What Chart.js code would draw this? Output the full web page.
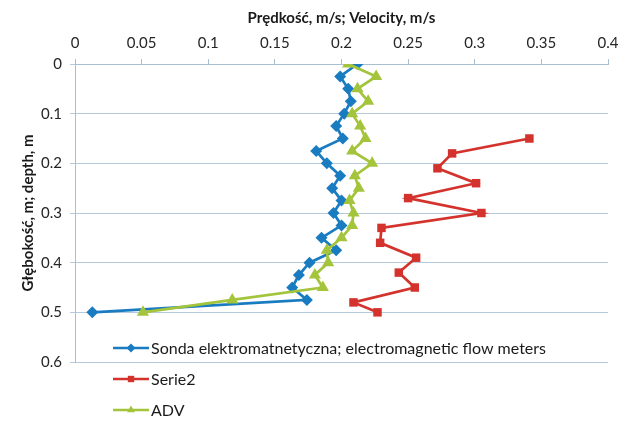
<!DOCTYPE html>
<html>
<head>
<meta charset="utf-8">
<script src="https://cdn.jsdelivr.net/npm/chart.js@4/dist/chart.umd.min.js"></script>
<style>
  html, body { margin: 0; padding: 0; background: #fff; }
  #wrap { width: 629px; height: 421px; position: relative; }
</style>
</head>
<body>
<div id="wrap"><canvas id="velChart" width="629" height="421"></canvas></div>
<script>
// depth [m] and velocity [m/s]
const depthEm = [0, 0.025, 0.05, 0.075, 0.1, 0.125, 0.15, 0.175, 0.2, 0.225, 0.25, 0.275, 0.3, 0.325, 0.35, 0.375, 0.4, 0.425, 0.45, 0.475, 0.5];
const velEm = [0.212, 0.199, 0.205, 0.207, 0.202, 0.196, 0.201, 0.181, 0.189, 0.199, 0.193, 0.200, 0.194, 0.200, 0.185, 0.196, 0.176, 0.168, 0.163, 0.174, 0.013];

const depthS2 = [0.15, 0.18, 0.21, 0.24, 0.27, 0.30, 0.33, 0.36, 0.39, 0.42, 0.45, 0.48, 0.50];
const velS2 = [0.341, 0.283, 0.272, 0.301, 0.250, 0.305, 0.230, 0.229, 0.256, 0.243, 0.255, 0.209, 0.227];

const depthAdv = [0, 0.025, 0.05, 0.075, 0.1, 0.125, 0.15, 0.175, 0.2, 0.225, 0.25, 0.275, 0.3, 0.325, 0.35, 0.375, 0.4, 0.425, 0.45, 0.475, 0.5];
const velAdv = [0.205, 0.226, 0.212, 0.220, 0.208, 0.214, 0.218, 0.208, 0.223, 0.210, 0.213, 0.206, 0.209, 0.208, 0.200, 0.189, 0.190, 0.180, 0.186, 0.118, 0.051];

const labels = ['Sonda elektromatnetyczna; electromagnetic flow meters', 'Serie2', 'ADV'];
const colors = ['#1a7cc0', '#d3332c', '#a3c43b'];
const FONT = 'Lato, "Open Sans", sans-serif';

function toPoints(xs, ys) {
  return xs.map((v, i) => ({ x: v, y: ys[i] }));
}

function fmt(v) {
  return String(Number(v.toFixed(2)));
}

// legend drawn inside the plot, near the bottom
const insideLegend = {
  id: 'insideLegend',
  afterDraw(chart) {
    const ctx = chart.ctx;
    const rows = [348, 379, 410];
    ctx.save();
    chart.data.datasets.forEach((ds, i) => {
      const y = rows[i];
      ctx.strokeStyle = ds.borderColor;
      ctx.lineWidth = 2.5;
      ctx.beginPath();
      ctx.moveTo(113, y);
      ctx.lineTo(149, y);
      ctx.stroke();
      ctx.fillStyle = ds.backgroundColor;
      Chart.helpers.drawPoint(ctx, { pointStyle: ds.pointStyle, radius: 4.5, borderWidth: 0, rotation: 0 }, 131, y);
      ctx.fillStyle = '#1a1a1a';
      ctx.font = '16px ' + FONT;
      ctx.textBaseline = 'middle';
      ctx.fillText(ds.label, 151, y + 1);
    });
    ctx.restore();
  }
};

const ctx = document.getElementById('velChart').getContext('2d');
new Chart(ctx, {
  type: 'line',
  data: {
    datasets: [
      { label: labels[0], data: toPoints(velEm, depthEm), borderColor: colors[0], backgroundColor: colors[0], pointStyle: 'rectRot', pointRadius: 6, pointBorderWidth: 0, borderWidth: 2.7, order: 3 },
      { label: labels[1], data: toPoints(velS2, depthS2), borderColor: colors[1], backgroundColor: colors[1], pointStyle: 'rect', pointRadius: 6, pointBorderWidth: 0, borderWidth: 2.7, order: 2 },
      { label: labels[2], data: toPoints(velAdv, depthAdv), borderColor: colors[2], backgroundColor: colors[2], pointStyle: 'triangle', pointRadius: 7, pointBorderWidth: 0, borderWidth: 2.7, order: 1 }
    ]
  },
  options: {
    responsive: false,
    animation: false,
    layout: { padding: { left: 0, top: 0, right: 21, bottom: 59 } },
    plugins: { legend: { display: false }, tooltip: { enabled: false } },
    scales: {
      x: {
        type: 'linear',
        position: 'top',
        min: 0,
        max: 0.4,
        ticks: { stepSize: 0.05, color: '#262626', font: { family: FONT, size: 15 }, padding: 7, callback: fmt },
        grid: { drawOnChartArea: false, drawTicks: true, tickLength: 5, color: '#a8bfd0' },
        border: { color: '#a8bfd0' },
        title: { display: true, text: 'Prędkość, m/s; Velocity, m/s', color: '#1a1a1a', font: { family: FONT, size: 15, weight: 'bold' }, padding: { top: 9, bottom: 2 } },
        afterFit(scale) { scale.height = 64; }
      },
      y: {
        type: 'linear',
        reverse: true,
        min: 0,
        max: 0.6,
        ticks: { stepSize: 0.1, color: '#262626', font: { family: FONT, size: 15 }, padding: 8, callback: fmt },
        grid: { color: '#b6cadb', tickLength: 5 },
        border: { color: '#a8bfd0' },
        title: { display: true, text: 'Głębokość, m; depth, m', color: '#1a1a1a', font: { family: FONT, size: 15, weight: 'bold' }, padding: { top: 19, bottom: 0 } },
        afterFit(scale) { scale.width = 75; }
      }
    }
  },
  plugins: [insideLegend]
});
</script>
</body>
</html>
